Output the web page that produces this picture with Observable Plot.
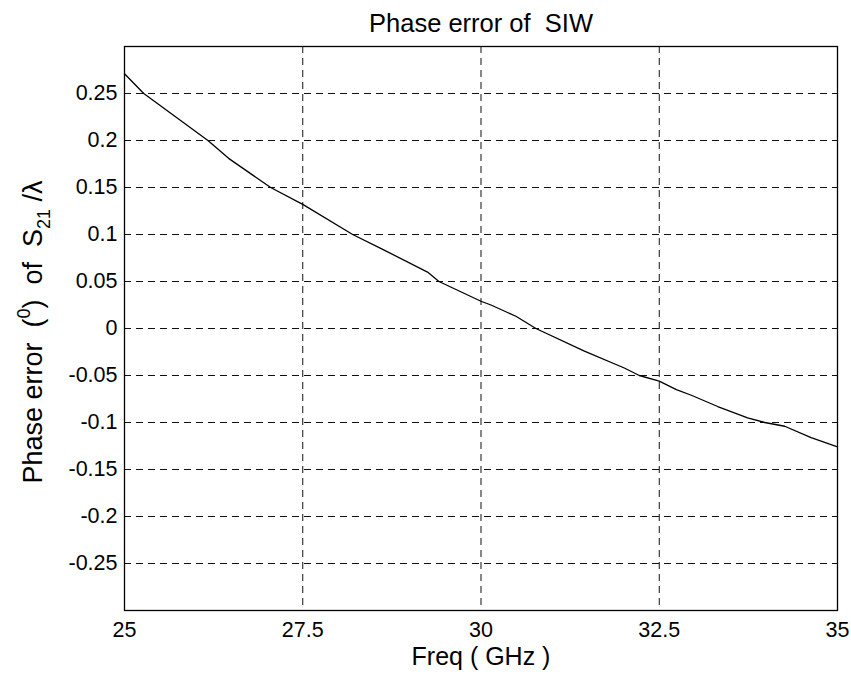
<!DOCTYPE html>
<html>
<head>
<meta charset="utf-8">
<script src="https://cdn.jsdelivr.net/npm/d3@7"></script>
<script src="https://cdn.jsdelivr.net/npm/@observablehq/plot@0.6"></script>
<style>
  html, body { margin: 0; padding: 0; background: white; }
</style>
</head>
<body>
<div id="chart"></div>
<script>
const freq  = [25, 25.27, 26.17, 26.46, 27.05, 27.5, 28.2, 28.6, 29.25, 29.41, 30, 30.14, 30.49, 30.77, 31.45, 32.01, 32.22, 32.5, 32.74, 32.95, 33.32, 33.74, 33.98, 34.26, 34.63, 35];
const phase = [0.271, 0.25, 0.2, 0.181, 0.15, 0.132, 0.1, 0.085, 0.06, 0.05, 0.029, 0.025, 0.013, 0, -0.024, -0.042, -0.05, -0.056, -0.065, -0.071, -0.083, -0.095, -0.100, -0.104, -0.116, -0.126];
const xTicks = [25, 27.5, 30, 32.5, 35];
const yTicks = [-0.25, -0.2, -0.15, -0.1, -0.05, 0, 0.05, 0.1, 0.15, 0.2, 0.25];
const titleText = "Phase error of\u00a0 SIW";
const xLabelText = "Freq ( GHz )";

const data = freq.map((f, i) => ({f, p: phase[i]}));

const fmt = d => String(+d.toFixed(2));

function yLabelMark(index, scales, values, dimensions) {
  const {marginTop, height, marginBottom} = dimensions;
  const cy = (marginTop + height - marginBottom) / 2 + 4;
  const t = d3.create("svg:text")
    .attr("transform", `translate(42,${cy}) rotate(-90)`)
    .attr("text-anchor", "middle")
    .attr("font-size", 27)
    .attr("fill", "black");
  t.append("tspan").text("Phase error\u00a0 (");
  t.append("tspan").attr("dy", -12).attr("font-size", 18).text("0");
  t.append("tspan").attr("dy", 12).text(")\u00a0 of\u00a0 S");
  t.append("tspan").attr("dy", 8).attr("font-size", 18).text("21");
  t.append("tspan").attr("dy", -8).text("\u00a0/\u03bb");
  return t.node();
}

const chart = Plot.plot({
  width: 851,
  height: 677,
  marginTop: 46,
  marginRight: 14,
  marginBottom: 67,
  marginLeft: 124,
  style: {fontFamily: "'Liberation Sans', Arial, sans-serif", background: "white", color: "black", overflow: "visible"},
  x: {domain: [25, 35]},
  y: {domain: [-0.3, 0.3]},
  marks: [
    Plot.gridX({ticks: xTicks, stroke: "#111", strokeOpacity: 1, strokeWidth: 1, strokeDasharray: "7,5"}),
    Plot.gridY({ticks: yTicks, stroke: "#111", strokeOpacity: 1, strokeWidth: 1, strokeDasharray: "7,5"}),
    Plot.frame({stroke: "black", strokeWidth: 1.3}),
    Plot.axisX({ticks: xTicks, tickSize: 0, tickPadding: 11, fontSize: 21.5, label: null, tickFormat: fmt}),
    Plot.axisY({ticks: yTicks, tickSize: 0, tickPadding: 7, fontSize: 21.5, label: null, tickFormat: fmt}),
    Plot.line(data, {x: "f", y: "p", stroke: "black", strokeWidth: 1.3}),
    Plot.text([titleText], {text: d => d, frameAnchor: "top", dy: -33, fontSize: 25.5, fill: "black"}),
    Plot.text([xLabelText], {text: d => d, frameAnchor: "bottom", dy: 54, fontSize: 25, fill: "black"}),
    yLabelMark
  ]
});

document.getElementById("chart").appendChild(chart);
</script>
</body>
</html>
